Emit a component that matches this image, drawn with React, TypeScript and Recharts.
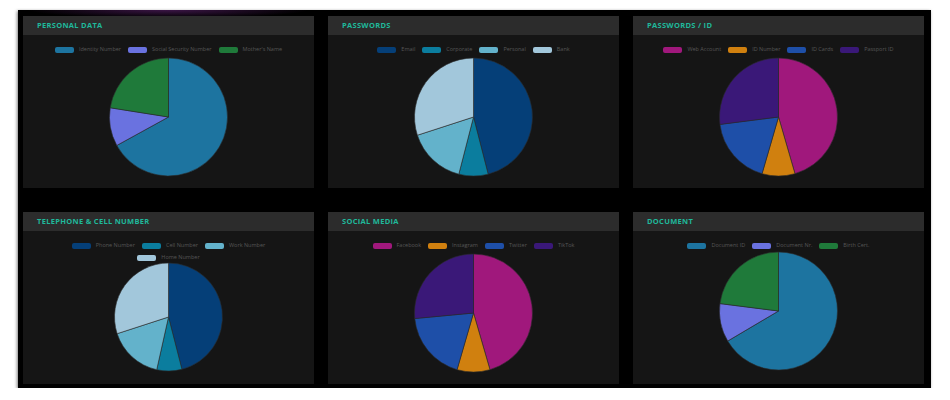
import { PieChart, Pie, Cell, Legend } from 'recharts';

const personalLabels = ['Identity Number', 'Social Security Number', "Mother's Name"];
const personalValues = [67, 10.5, 22.5];
const personalColors = ['#1d74a0', '#6a72e0', '#1f7a3a'];

const passwordLabels = ['Email', 'Corporate', 'Personal', 'Bank'];
const passwordValues = [46, 8, 16, 30];
const passwordIdLabels = ['Web Account', 'ID Number', 'ID Cards', 'Passport ID'];
const passwordIdValues = [45.5, 9, 18.5, 27];

const phoneLabels = ['Phone Number', 'Cell Number', 'Work Number', 'Home Number'];
const phoneValues = [46, 7.5, 16.5, 30];

const socialLabels = ['Facebook', 'Instagram', 'Twitter', 'TikTok'];
const socialValues = [45.5, 9, 19, 26.5];

const documentLabels = ['Document ID', 'Document Nr.', 'Birth Cert.'];
const documentValues = [66.5, 10.5, 23];

const blueColors = ['#053f78', '#0b7d9e', '#63b2cb', '#a2c7db'];
const magentaColors = ['#a0187c', '#d0800f', '#1e4fa8', '#3a1878'];

const TITLE_COLOR = '#1fb99b';

interface PanelProps {
  title: string;
  labels: string[];
  values: number[];
  colors: string[];
  cy: number;
  radius: number;
}

function Panel({ title, labels, values, colors, cy, radius }: PanelProps) {
  const data = labels.map((name, i) => ({ name, value: values[i] }));

  // legend keeps the data order (recharts sorts its payload by name)
  const legend = () => (
    <div
      style={{
        display: 'flex',
        flexWrap: 'wrap',
        justifyContent: 'center',
        rowGap: 5,
        columnGap: 7,
        width: 250,
        margin: '0 auto',
      }}
    >
      {labels.map((label, i) => (
        <span key={label} style={{ display: 'inline-flex', alignItems: 'center', gap: 5 }}>
          <span
            style={{ display: 'inline-block', width: 19, height: 6, borderRadius: 2, background: colors[i] }}
          />
          <span style={{ fontSize: 5.5, color: '#555', lineHeight: '7px' }}>{label}</span>
        </span>
      ))}
    </div>
  );

  return (
    <div style={{ width: 291, height: 172, background: '#151515' }}>
      <div
        style={{
          height: 19,
          background: '#2c2c2c',
          color: TITLE_COLOR,
          fontSize: 7.5,
          fontWeight: 700,
          letterSpacing: 0.3,
          lineHeight: '19px',
          paddingLeft: 14,
        }}
      >
        {title}
      </div>
      <PieChart width={291} height={153} margin={{ top: 0, right: 0, bottom: 0, left: 0 }}>
        <Legend verticalAlign="top" align="center" content={legend} wrapperStyle={{ top: 11 }} />
        <Pie
          data={data}
          dataKey="value"
          nameKey="name"
          cx="50%"
          cy={cy}
          outerRadius={radius}
          startAngle={90}
          endAngle={-270}
          stroke="#2a2a2a"
          strokeWidth={0.6}
          isAnimationActive={false}
        >
          {data.map((d, i) => (
            <Cell key={d.name} fill={colors[i]} />
          ))}
        </Pie>
      </PieChart>
    </div>
  );
}

export default function App() {
  return (
    <div
      style={{
        marginLeft: 10,
        marginTop: 2,
        width: 913,
        height: 378,
        boxSizing: 'border-box',
        padding: '6px 5px',
        background:
          'radial-gradient(ellipse 140px 8px at 150px 0px, rgba(110,40,130,0.55), transparent), radial-gradient(ellipse 10px 30px at 322px 65px, rgba(90,30,110,0.5), transparent), #000',
        boxShadow: '-1px 1px 3px rgba(0,0,0,0.5)',
        fontFamily: '"Open Sans", Roboto, sans-serif',
        display: 'grid',
        gridTemplateColumns: '291px 291px 291px',
        gridTemplateRows: '172px 172px',
        columnGap: 14,
        rowGap: 24,
      }}
    >
      <Panel title="PERSONAL DATA" labels={personalLabels} values={personalValues} colors={personalColors} cy={75} radius={59} />
      <Panel title="PASSWORDS" labels={passwordLabels} values={passwordValues} colors={blueColors} cy={75} radius={59} />
      <Panel title="PASSWORDS / ID" labels={passwordIdLabels} values={passwordIdValues} colors={magentaColors} cy={75} radius={59} />
      <Panel title="TELEPHONE & CELL NUMBER" labels={phoneLabels} values={phoneValues} colors={blueColors} cy={67} radius={54} />
      <Panel title="SOCIAL MEDIA" labels={socialLabels} values={socialValues} colors={magentaColors} cy={75} radius={59} />
      <Panel title="DOCUMENT" labels={documentLabels} values={documentValues} colors={personalColors} cy={73} radius={59} />
    </div>
  );
}
